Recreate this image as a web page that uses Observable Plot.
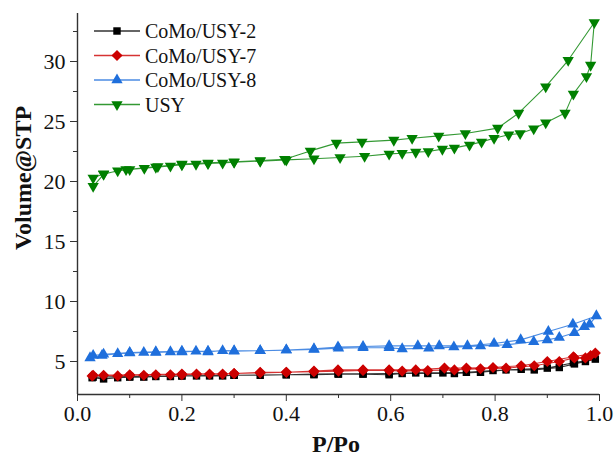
<!DOCTYPE html>
<html><head><meta charset="utf-8">
<script src="https://cdn.jsdelivr.net/npm/d3@7"></script>
<script src="https://cdn.jsdelivr.net/npm/@observablehq/plot@0.6"></script>
<style>body{margin:0;background:#fff} svg{display:block} svg text{font-family:'Liberation Serif','Times New Roman',serif !important}</style>
</head><body><div id="chart"></div>
<script>
const seriesNames = ["CoMo/USY-2", "CoMo/USY-7", "CoMo/USY-8", "USY"];
const seriesColors = ["#000000", "#cc0000", "#1f6fdc", "#008000"];
const xTicks = [0, 0.2, 0.4, 0.6, 0.8, 1.0];
const xMinorTicks = [0.1, 0.3, 0.5, 0.7, 0.9];
const yTicks = [5, 10, 15, 20, 25, 30];
const yMinorTicks = [7.5, 12.5, 17.5, 22.5, 27.5, 32.5];

// CoMo/USY-2 (adsorption then desorption)
const como2P = [0.028,0.05,0.077,0.10,0.127,0.15,0.178,0.20,0.228,0.253,0.278,0.30,0.35,0.40,0.453,0.50,0.547,0.597,0.622,0.671,0.722,0.772,0.821,0.875,0.923,0.952,0.973,0.992,
  0.95,0.90,0.85,0.796,0.745,0.70,0.648,0.597,0.547,0.499,0.453,0.40,0.30,0.20,0.10,0.03];
const como2V = [3.65,3.55,3.65,3.7,3.7,3.75,3.75,3.8,3.8,3.8,3.8,3.85,3.85,3.9,3.9,3.95,3.95,3.9,4.0,4.0,4.0,4.1,4.3,4.3,4.5,4.8,5.0,5.2,
  4.9,4.45,4.35,4.25,4.1,4.05,4.05,4.0,3.97,3.97,3.95,3.9,3.85,3.8,3.75,3.7];
// CoMo/USY-7
const como7P = [0.028,0.05,0.077,0.10,0.127,0.15,0.178,0.20,0.228,0.253,0.278,0.30,0.35,0.40,0.453,0.50,0.547,0.597,0.622,0.671,0.722,0.772,0.821,0.875,0.923,0.952,0.973,0.983,0.992,
  0.95,0.90,0.85,0.796,0.745,0.703,0.648,0.597,0.547,0.499,0.453,0.40,0.35,0.30,0.20,0.10,0.03];
const como7V = [3.8,3.85,3.8,3.85,3.85,3.9,3.9,3.9,3.95,3.95,3.95,4.0,4.05,4.1,4.15,4.2,4.25,4.25,4.2,4.25,4.3,4.4,4.45,4.65,5.0,5.3,5.3,5.5,5.7,
  5.4,5.0,4.65,4.5,4.45,4.45,4.3,4.3,4.3,4.3,4.2,4.1,4.1,4.0,3.95,3.9,3.85];
// CoMo/USY-8
const como8P = [0.024,0.047,0.077,0.10,0.127,0.15,0.178,0.20,0.227,0.25,0.278,0.30,0.35,0.40,0.453,0.50,0.547,0.597,0.622,0.673,0.721,0.772,0.823,0.874,0.90,0.923,0.952,0.971,0.981,0.994,
  0.949,0.902,0.849,0.798,0.747,0.693,0.652,0.597,0.547,0.499,0.453,0.40,0.35,0.30,0.25,0.20,0.15,0.10,0.05,0.03];
const como8V = [5.3,5.5,5.65,5.7,5.75,5.75,5.8,5.8,5.85,5.8,5.9,5.85,5.9,5.95,6.0,6.1,6.15,6.15,6.05,6.1,6.2,6.3,6.4,6.65,6.8,7.0,7.4,7.9,8.1,8.8,
  8.1,7.5,6.8,6.5,6.3,6.3,6.3,6.3,6.25,6.2,6.05,5.95,5.9,5.9,5.85,5.85,5.8,5.75,5.6,5.5];
// USY
const usyP = [0.03,0.05,0.077,0.10,0.128,0.15,0.178,0.20,0.227,0.25,0.278,0.30,0.35,0.40,0.453,0.503,0.55,0.597,0.622,0.648,0.672,0.699,0.722,0.751,0.774,0.798,0.826,0.848,0.874,0.897,0.934,0.95,0.975,0.983,0.99,
  0.94,0.897,0.845,0.805,0.743,0.692,0.641,0.606,0.545,0.496,0.446,0.397,0.35,0.30,0.25,0.20,0.154,0.093,0.05,0.03];
const usyV = [19.6,20.6,20.9,21.0,21.1,21.2,21.3,21.4,21.45,21.5,21.55,21.6,21.7,21.8,21.9,22.0,22.1,22.3,22.35,22.45,22.5,22.7,22.8,23.05,23.3,23.6,23.9,24.0,24.4,24.9,25.7,27.3,28.75,29.7,33.25,
  30.1,27.9,25.7,24.45,24.0,23.8,23.6,23.45,23.3,23.2,22.55,21.85,21.75,21.65,21.55,21.45,21.25,21.0,20.65,20.3];

const seriesP = [como2P, como7P, como8P, usyP];
const seriesV = [como2V, como7V, como8V, usyV];

const triangleDown = {
  draw(context, size) {
    const y = Math.sqrt(size / (3 * Math.sqrt(3)));
    context.moveTo(0, 2 * y);
    context.lineTo(-Math.sqrt(3) * y, -y);
    context.lineTo(Math.sqrt(3) * y, -y);
    context.closePath();
  }
};
const seriesSymbols = ["square", "diamond2", "triangle", triangleDown];
const d3Symbols = [d3.symbolSquare, d3.symbolDiamond2, d3.symbolTriangle, triangleDown];
const seriesR = [4.2, 5.0, 4.2, 4.2];

const tables = seriesNames.map((name, i) => seriesP[i].map((p, j) => ({p, v: seriesV[i][j], name})));

const serif = "'Liberation Serif', 'Times New Roman', serif";
const yMin = 2.25, yMax = 34;
const marks = [];
tables.forEach((t, i) => {
  marks.push(Plot.line(t, {x: "p", y: "v", stroke: seriesColors[i], strokeWidth: 1.1, strokeOpacity: 0.8}));
});
tables.forEach((t, i) => {
  marks.push(Plot.dot(t, {x: "p", y: "v", fill: seriesColors[i], stroke: "none", symbol: seriesSymbols[i], r: seriesR[i]}));
});
marks.push(
  Plot.axisX({ticks: xTicks, tickSize: 7, tickPadding: 4, tickFormat: d3.format(".1f"), label: null, stroke: "#333", fill: "#111", fontSize: 22}),
  Plot.axisX({ticks: xMinorTicks, tickSize: 4, tickFormat: () => "", label: null, stroke: "#333"}),
  Plot.axisY({ticks: yTicks, tickSize: 7, tickPadding: 5, label: null, stroke: "#333", fill: "#111", fontSize: 22}),
  Plot.axisY({ticks: yMinorTicks, tickSize: 4, tickFormat: () => "", label: null, stroke: "#333"}),
  Plot.ruleY([yMin], {stroke: "#333", strokeWidth: 1.4}),
  Plot.ruleX([0], {stroke: "#333", strokeWidth: 1.4})
);

const chart = Plot.plot({
  width: 614,
  height: 457,
  marginLeft: 77,
  marginRight: 15,
  marginTop: 13,
  marginBottom: 63,
  style: {fontFamily: serif, fontSize: "20px", background: "#fff", color: "#111"},
  x: {domain: [0, 1]},
  y: {domain: [yMin, yMax]},
  marks
});
document.getElementById("chart").appendChild(chart);

const svg = d3.select(chart);
// axis titles
svg.append("text").attr("x", 336).attr("y", 452).attr("text-anchor", "middle")
  .attr("font-weight", "bold").attr("font-size", 24).attr("fill", "#111").text("P/Po");
svg.append("text").attr("transform", "translate(31,178) rotate(-90)").attr("text-anchor", "middle")
  .attr("font-weight", "bold").attr("font-size", 24).attr("fill", "#111").text("Volume@STP");

// legend
const lg = svg.append("g");
seriesNames.forEach((name, i) => {
  const cy = 31 + i * 24.5;
  lg.append("line").attr("x1", 94).attr("x2", 140).attr("y1", cy).attr("y2", cy)
    .attr("stroke", seriesColors[i]).attr("stroke-width", 1.3).attr("stroke-opacity", 0.8);
  lg.append("path").attr("transform", `translate(117,${cy})`)
    .attr("d", d3.symbol(d3Symbols[i], Math.PI * seriesR[i] * seriesR[i])())
    .attr("fill", seriesColors[i]);
  lg.append("text").attr("x", 145).attr("y", cy + 7).attr("text-anchor", "start")
    .attr("font-size", 20).attr("fill", "#111").text(name);
});
</script></body></html>
